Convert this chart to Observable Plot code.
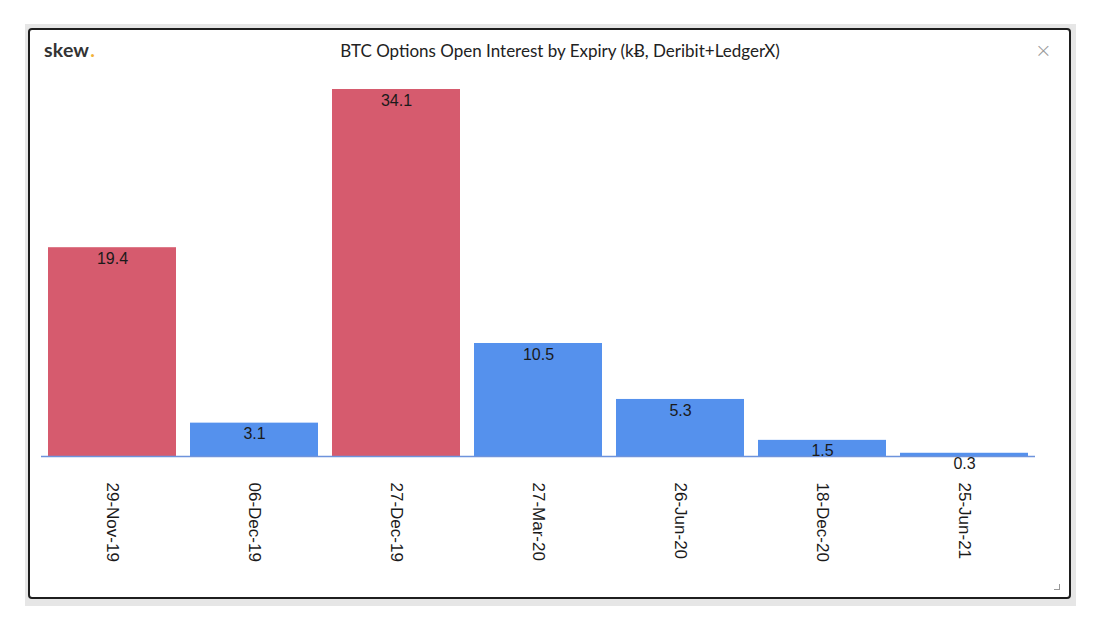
<!DOCTYPE html>
<html>
<head>
<meta charset="utf-8">
<script src="https://cdn.jsdelivr.net/npm/d3@7"></script>
<script src="https://cdn.jsdelivr.net/npm/@observablehq/plot@0.6"></script>
<style>
  html, body { margin: 0; padding: 0; background: #ffffff; }
  #page { position: relative; width: 1100px; height: 628px; overflow: hidden; }
  #outer { position: absolute; left: 25px; top: 24px; width: 1051px; height: 582px; background: #e6e6e6; }
  #panel { position: absolute; left: 28px; top: 28px; width: 1039px; height: 567px; background: #fff; border: 2px solid #1e1e1e; border-radius: 4px; }
  #logo { position: absolute; left: 44px; top: 38px; font-family: Lato, "Open Sans", sans-serif; font-weight: 700; font-size: 19.5px; color: #333; letter-spacing: 0.2px; }
  #logo span { color: #f2b23a; margin-left: 1px; }
  #title { position: absolute; left: 0; width: 1120px; top: 40px; text-align: center; font-family: Lato, "Open Sans", sans-serif; font-size: 17px; color: #222; }
  #close { position: absolute; left: 1035px; top: 38px; font-family: "DejaVu Sans", sans-serif; font-size: 20px; color: #999; font-weight: 200; }
  #grip { position: absolute; left: 1054px; top: 584px; width: 5px; height: 5px; border-right: 1.5px solid #999; border-bottom: 1.5px solid #999; }
  #chart { position: absolute; left: 0; top: 0; }
</style>
</head>
<body>
<div id="page">
  <div id="outer"></div>
  <div id="panel"></div>
  <div id="logo">skew<span>.</span></div>
  <div id="title">BTC Options Open Interest by Expiry (kɃ, Deribit+LedgerX)</div>
  <div id="close">×</div>
  <div id="grip"></div>
  <div id="chart"></div>
</div>
<script>
// Expiry dates (categories)
const expiries = ["29-Nov-19", "06-Dec-19", "27-Dec-19", "27-Mar-20", "26-Jun-20", "18-Dec-20", "25-Jun-21"];
// Open interest in thousands of BTC
const openInterest = [19.4, 3.1, 34.1, 10.5, 5.3, 1.5, 0.3];
// Highlight group for each expiry
const groups = ["near", "other", "near", "other", "other", "other", "other"];

const data = expiries.map((e, i) => ({expiry: e, oi: openInterest[i], group: groups[i]}));

const chart = Plot.plot({
  width: 1100,
  height: 628,
  marginLeft: 41,
  marginRight: 65,
  marginTop: 89,
  marginBottom: 172,
  style: {fontFamily: "'Liberation Sans', Arial, sans-serif", background: "transparent", overflow: "visible"},
  x: {domain: expiries, paddingInner: 0.1, paddingOuter: 0.05, axis: null},
  y: {domain: [0, 34.1], axis: null},
  color: {domain: ["near", "other"], range: ["#d65b6e", "#5591ed"]},
  marks: [
    Plot.barY(data, {x: "expiry", y: "oi", fill: "group"}),
    Plot.ruleY([0], {stroke: "#6e93dc", strokeWidth: 1.5}),
    Plot.text(data, {x: "expiry", y: "oi", text: d => d.oi.toFixed(1), dy: 11, fontSize: 16, fill: "#1a1a1a"}),
    Plot.axisX({tickRotate: 90, tickSize: 0, tickPadding: 26, fontSize: 17, fill: "#1a1a1a", label: null})
  ]
});
document.getElementById("chart").appendChild(chart);
</script>
</body>
</html>
